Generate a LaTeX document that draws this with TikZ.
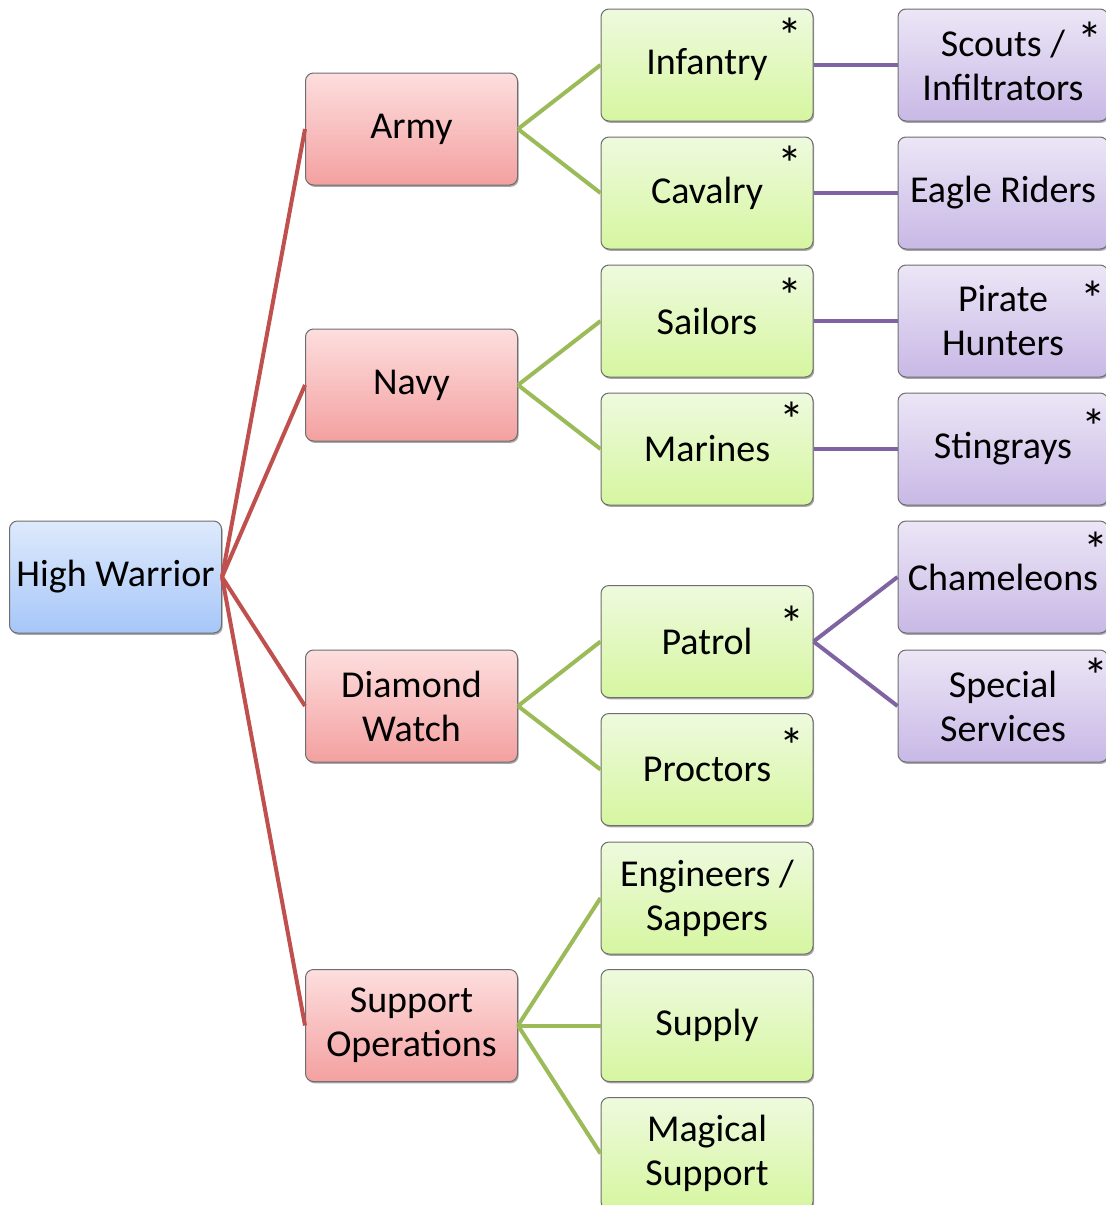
\documentclass[tikz,border=0pt]{standalone}
\usepackage{fontspec}
\setmainfont{Carlito}
\usetikzlibrary{shadows}
\definecolor{lnred}{HTML}{C0504D}
\definecolor{lngreen}{HTML}{9BBB59}
\definecolor{lnpurple}{HTML}{8064A2}
\definecolor{bdr}{HTML}{6E6E6E}
\begin{document}
\begin{tikzpicture}[x=0.5pt,y=-0.5pt,
  box/.style={draw=bdr,line width=0.5pt,rounded corners=4pt,minimum width=106pt,minimum height=56pt,
    align=center,font=\fontsize{19}{22}\selectfont,inner sep=1pt,
    drop shadow={shadow xshift=0.6pt,shadow yshift=-0.9pt,opacity=0.35,fill=black}},
  rootbox/.style={box,top color={rgb,255:red,222;green,234;blue,252},bottom color={rgb,255:red,166;green,198;blue,248}},
  redbox/.style={box,top color={rgb,255:red,253;green,222;blue,222},bottom color={rgb,255:red,244;green,160;blue,160}},
  greenbox/.style={box,top color={rgb,255:red,238;green,250;blue,222},bottom color={rgb,255:red,214;green,246;blue,160}},
  purplebox/.style={box,minimum width=105pt,top color={rgb,255:red,236;green,230;blue,246},bottom color={rgb,255:red,200;green,184;blue,230}},
  star/.style={font=\fontsize{25}{25}\selectfont,inner sep=0pt},
  redln/.style={draw=lnred,line width=2pt},
  greenln/.style={draw=lngreen,line width=2pt},
  purpleln/.style={draw=lnpurple,line width=2pt}]
\useasboundingbox (0,0) rectangle (1106,1205);
\clip (0,0) rectangle (1106,1205);
% root
\node[rootbox] (hw) at (115.5,577) {High Warrior};
% level 1
\node[redbox] (army) at (411.5,129) {Army};
\node[redbox] (navy) at (411.5,385) {Navy};
\node[redbox] (dw) at (411.5,706) {Diamond\\Watch};
\node[redbox] (so) at (411.5,1025.5) {Support\\Operations};
% level 2
\node[greenbox] (inf) at (707,65) {Infantry};
\node[greenbox] (cav) at (707,193) {Cavalry};
\node[greenbox] (sai) at (707,321) {Sailors};
\node[greenbox] (mar) at (707,449) {Marines};
\node[greenbox] (pat) at (707,641.5) {Patrol};
\node[greenbox] (pro) at (707,769.5) {Proctors};
\node[greenbox] (eng) at (707,898) {Engineers /\\Sappers};
\node[greenbox] (sup) at (707,1025.5) {Supply};
\node[greenbox] (mag) at (707,1153.5) {Magical\\Support};
% level 3
\node[purplebox] (sco) at (1003,65) {Scouts /\\Infiltrators};
\node[purplebox] (eag) at (1003,193) {Eagle Riders};
\node[purplebox] (pir) at (1003,321) {Pirate\\Hunters};
\node[purplebox] (sti) at (1003,449) {Stingrays};
\node[purplebox] (cha) at (1003,577) {Chameleons};
\node[purplebox] (spe) at (1003,706) {Special\\Services};
% asterisks
\node[star] (s1) at (790,36) {*};
\node[star] (s2) at (790,164) {*};
\node[star] (s3) at (790,296) {*};
\node[star] (s4) at (792,420) {*};
\node[star] (s5) at (792,624) {*};
\node[star] (s6) at (792,746) {*};
\node[star] (s7) at (1090,40) {*};
\node[star] (s8) at (1093,299) {*};
\node[star] (s9) at (1094,427) {*};
\node[star] (s10) at (1096,550) {*};
\node[star] (s11) at (1096,676) {*};
% connectors
\foreach \c in {army,navy,dw,so} \draw[redln] (hw.east) -- (\c.west);
\foreach \p/\c in {army/inf,army/cav,navy/sai,navy/mar,dw/pat,dw/pro,so/eng,so/sup,so/mag} \draw[greenln] (\p.east) -- (\c.west);
\foreach \p/\c in {inf/sco,cav/eag,sai/pir,mar/sti,pat/cha,pat/spe} \draw[purpleln] (\p.east) -- (\c.west);
\end{tikzpicture}
\end{document}
